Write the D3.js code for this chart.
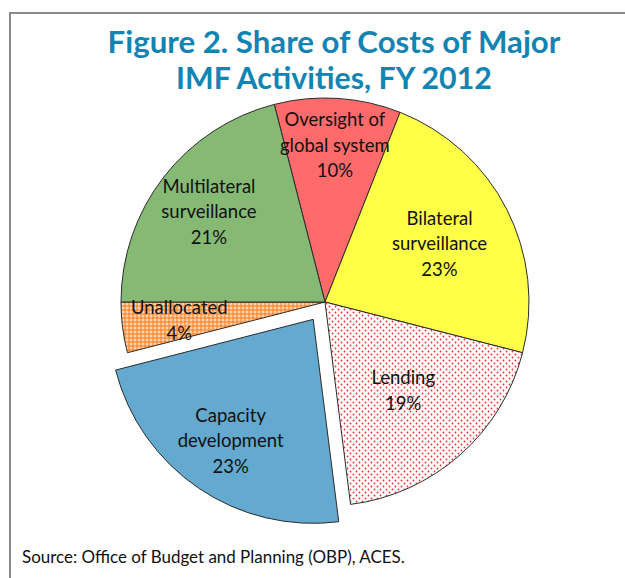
<!DOCTYPE html>
<html>
  <head>
    <title>IMF cost shares</title>
    <style>
    body {
        margin: 0px;
        overflow: hidden;
        background: white;
    }

    text {
        font-family: Lato, "Open Sans", sans-serif;
    }

    .slice-label {
        font-size: 18.5px;
        fill: #111;
    }
    </style>
    <script src="https://d3js.org/d3.v7.min.js"></script>
  </head>
  <body>

    <svg width="625" height="578"></svg>

    <script>
        // chart data
        const categories = ["Oversight of global system", "Bilateral surveillance", "Lending",
                            "Capacity development", "Unallocated", "Multilateral surveillance"];
        const shares = [10, 23, 19, 23, 4, 21];
        const labelLines = [["Oversight of", "global system"], ["Bilateral", "surveillance"], ["Lending"],
                            ["Capacity", "development"], ["Unallocated"], ["Multilateral", "surveillance"]];
        const titleLines = ["Figure 2. Share of Costs of Major", "IMF Activities, FY 2012"];
        const sourceText = "Source: Office of Budget and Planning (OBP), ACES.";

        // styling
        const fills = ["#FF6B6B", "#FFFF47", "url(#dots)", "#64A9CF", "url(#hatch)", "#86BA74"];
        const exploded = [0, 0, 0, 21, 0, 0];
        // how far out the label sits, as a share of the radius
        const labelRadius = [0.77, 0.63, 0.58, 0.72, 0.72, 0.72];

        const svg = d3.select('svg');
        const width = +svg.attr('width');
        const height = +svg.attr('height');

        //patterns for lending and unallocated
        const defs = svg.append('defs');
        const dots = defs.append('pattern')
            .attr('id', 'dots')
            .attr('patternUnits', 'userSpaceOnUse')
            .attr('width', 6).attr('height', 6);
        dots.append('rect').attr('width', 6).attr('height', 6).attr('fill', 'white');
        [[1.5, 1.5], [4.5, 4.5]].forEach(p => {
            dots.append('circle').attr('cx', p[0]).attr('cy', p[1]).attr('r', 0.9).attr('fill', '#FF2A2A');
        });

        const hatch = defs.append('pattern')
            .attr('id', 'hatch')
            .attr('patternUnits', 'userSpaceOnUse')
            .attr('width', 4).attr('height', 4);
        hatch.append('rect').attr('width', 4).attr('height', 4).attr('fill', '#F7913F');
        hatch.append('rect').attr('x', 1.5).attr('y', 0.5).attr('width', 1).attr('height', 3).attr('fill', '#FFE9D8');
        hatch.append('rect').attr('x', 0.5).attr('y', 1.5).attr('width', 3).attr('height', 1).attr('fill', '#FFE9D8');

        //frame
        svg.append('path')
            .attr('d', `M10,${height + 5}V13H${width + 5}`)
            .attr('fill', 'none')
            .attr('stroke', '#8a8a8a')
            .attr('stroke-width', 2);

        //title, sized so each line spans like the original
        const titleWidths = [453, 316];
        titleLines.forEach((t, i) => {
            const tx = svg.append('text')
                .text(t)
                .attr('x', 334)
                .attr('y', 53 + i * 36)
                .attr('text-anchor', 'middle')
                .attr('font-weight', 'bold')
                .attr('font-size', 30)
                .attr('fill', '#1284B3');
            const w = tx.node().getComputedTextLength();
            tx.attr('font-size', 30 * titleWidths[i] / w);
        });

        //pie
        const cx = 325, cy = 302, r = 204;
        const data = categories.map((c, i) => ({category: c, value: shares[i], i: i}));

        // start so that the Unallocated/Multilateral boundary is horizontal (9 o'clock)
        const total = d3.sum(shares);
        const start = 1.5 * Math.PI - 2 * Math.PI * d3.sum(shares.slice(0, 5)) / total;
        const pie = d3.pie()
            .value(d => d.value)
            .sort(null)
            .startAngle(start)
            .endAngle(start + 2 * Math.PI);

        const arcs = pie(data);
        const arc = d3.arc().innerRadius(0).outerRadius(r);

        const g = svg.append('g')
            .attr('transform', `translate(${cx},${cy})`);

        const offset = d => {
            const a = (d.startAngle + d.endAngle) / 2;
            const e = exploded[d.data.i];
            return [Math.sin(a) * e, -Math.cos(a) * e];
        };

        g.selectAll('path.slice').data(arcs)
            .enter().append('path')
                .attr('class', 'slice')
                .attr('d', arc)
                .attr('transform', d => `translate(${offset(d)})`)
                .attr('fill', d => fills[d.data.i])
                .attr('stroke', '#2b2b2b')
                .attr('stroke-width', 1);

        //labels
        const lineH = 25.5;
        arcs.forEach(d => {
            const k = labelRadius[d.data.i] * r;
            const a = (d.startAngle + d.endAngle) / 2;
            const o = offset(d);
            const lx = Math.sin(a) * k + o[0];
            const ly = -Math.cos(a) * k + o[1];
            const lines = labelLines[d.data.i].concat([d.data.value + '%']);
            const y0 = ly - (lines.length - 1) * lineH / 2;
            const t = g.append('text')
                .attr('class', 'slice-label')
                .attr('text-anchor', 'middle');
            lines.forEach((ln, j) => {
                t.append('tspan')
                    .attr('x', lx)
                    .attr('y', y0 + j * lineH)
                    .attr('dy', '0.35em')
                    .text(ln);
            });
        });

        //source note
        const src = svg.append('text')
            .text(sourceText)
            .attr('x', 22)
            .attr('y', 563)
            .attr('font-size', 16)
            .attr('fill', '#111');
        const sw = src.node().getComputedTextLength();
        src.attr('font-size', 16 * 383 / sw);
    </script>
  </body>
</html>
